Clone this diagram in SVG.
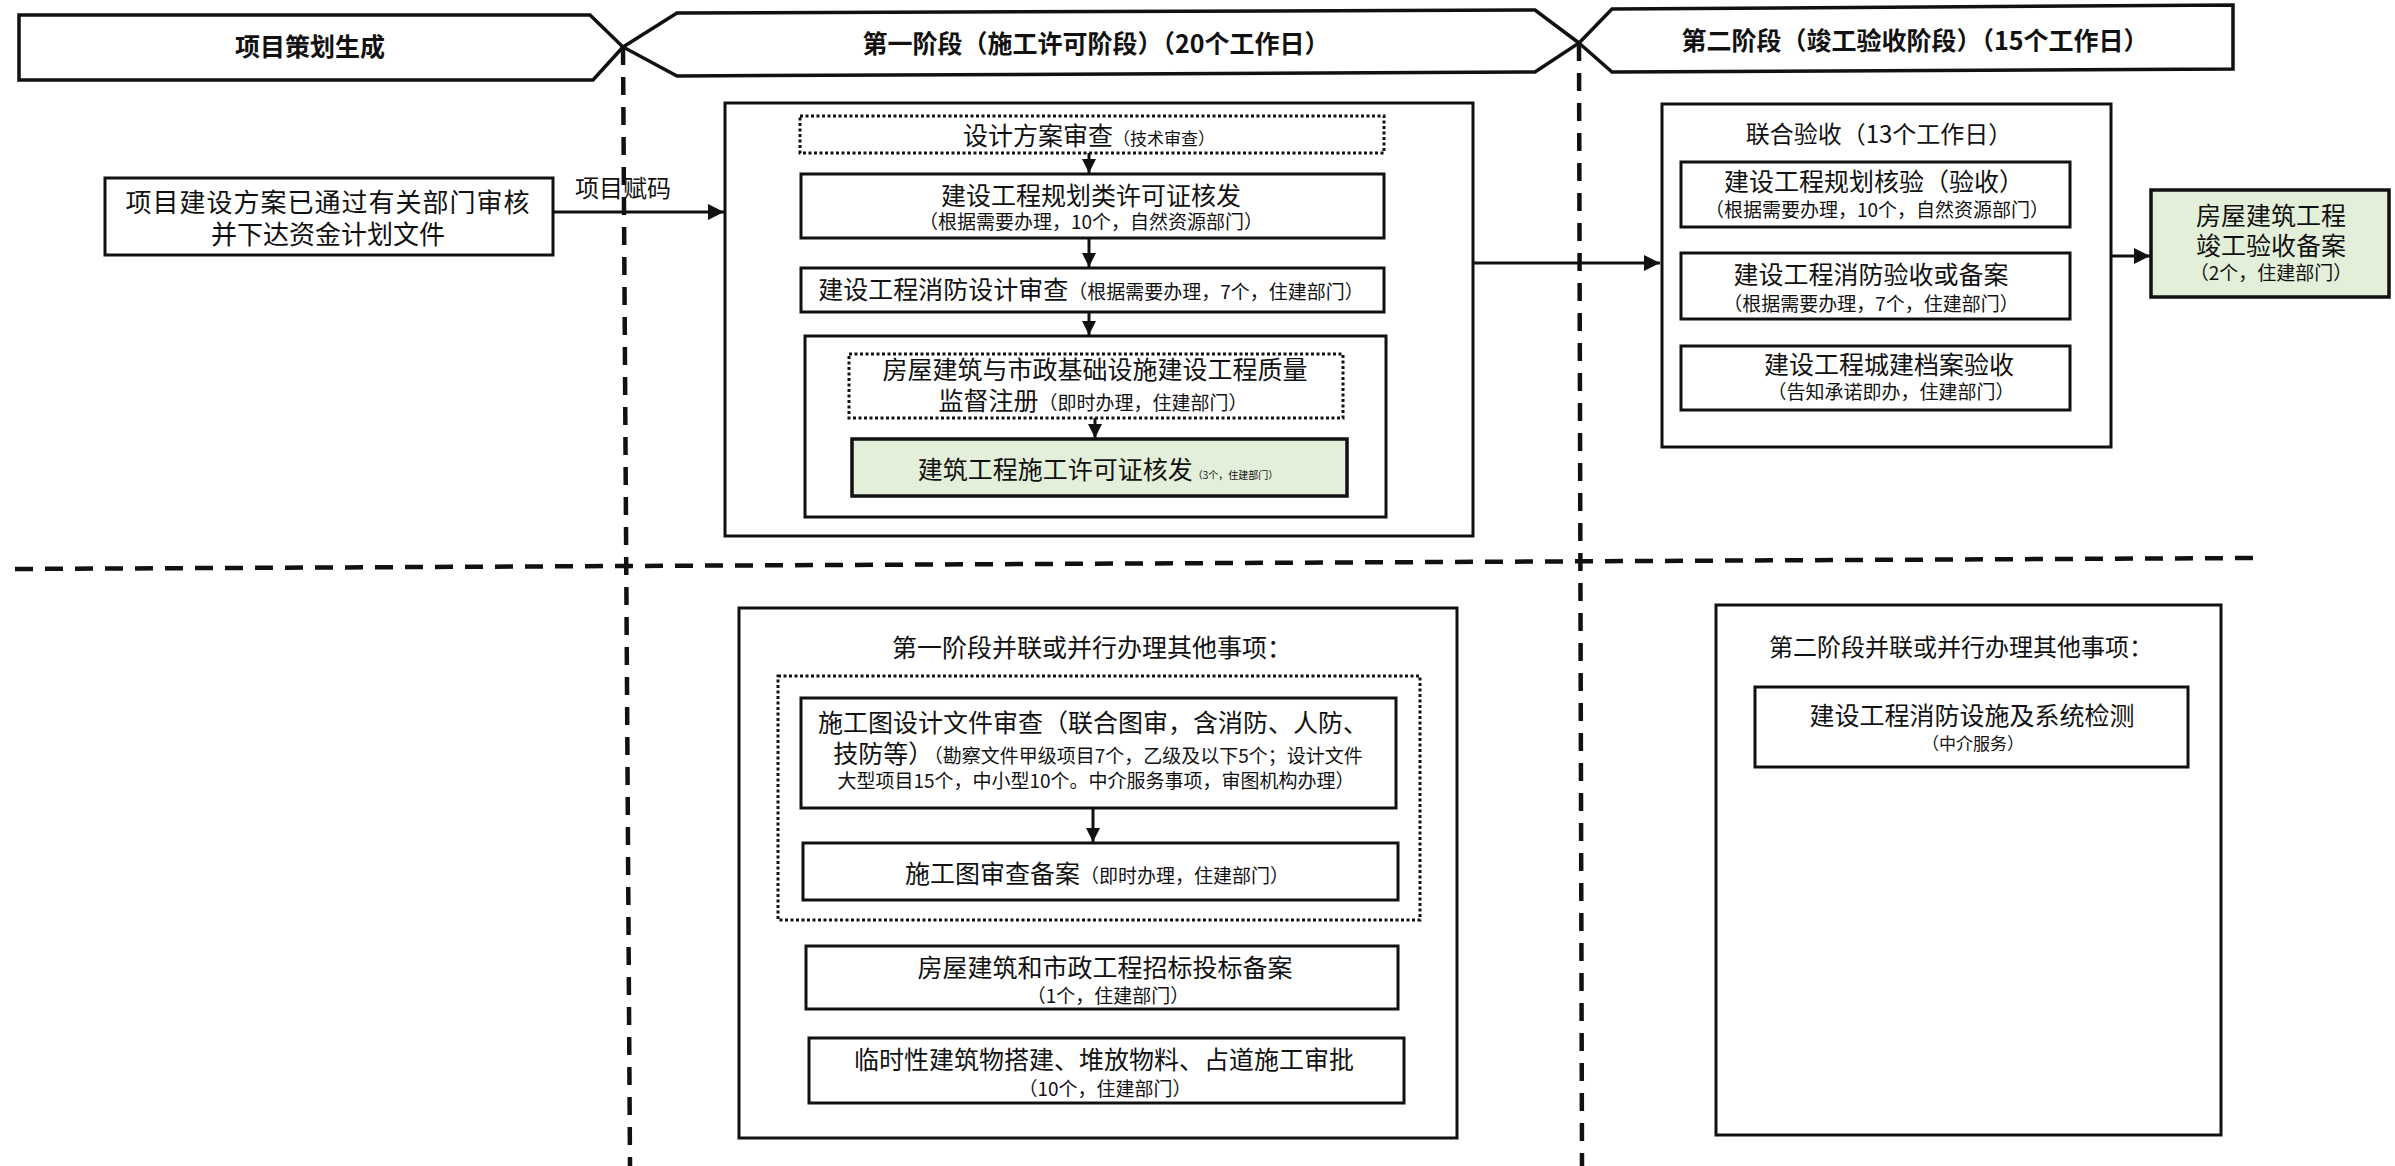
<svg xmlns="http://www.w3.org/2000/svg" width="2395" height="1166" viewBox="0 0 2395 1166">
<defs>
<marker id="arr" viewBox="0 0 10 10" refX="10" refY="5" markerWidth="16" markerHeight="16" markerUnits="userSpaceOnUse" orient="auto">
<path d="M0,0 L10,5 L0,10 z" fill="#111"/>
</marker>
<marker id="arrs" viewBox="0 0 10 10" refX="10" refY="5" markerWidth="14" markerHeight="14" markerUnits="userSpaceOnUse" orient="auto">
<path d="M0,0 L10,5 L0,10 z" fill="#111"/>
</marker>
</defs>
<style>
.box{fill:#fff;stroke:#111;stroke-width:3}
.dot{fill:#fff;stroke:#111;stroke-width:3;stroke-dasharray:3 2.5}
.green{fill:#e3efd9;stroke:#111;stroke-width:3.5}
.hdr{fill:#fff;stroke:#111;stroke-width:3.5;stroke-linejoin:miter}
.ht{font-family:"Noto Sans CJK SC","Noto Sans",sans-serif;font-weight:700;font-size:25px;fill:#111;text-anchor:middle}
.t{font-family:"Noto Sans CJK SC","Noto Sans",sans-serif;font-size:25px;fill:#111;text-anchor:middle}
.s{font-size:19px}
.con{stroke:#111;stroke-width:3;fill:none}
.dash{stroke:#111;stroke-width:4.5;stroke-dasharray:18 12;fill:none}
</style>
<rect width="2395" height="1166" fill="#fff"/>

<g id="headers">
<g id="hdr1">
<polygon class="hdr" points="19,15 590,15 623,47 593,80 19,80"/>
<text class="ht" x="310" y="56">项目策划生成</text>
</g>
<g id="hdr2">
<polygon class="hdr" points="623,47 677,13 1535,10 1579,43 1535,72 677,76"/>
<text class="ht" x="1096" y="53">第一阶段（施工许可阶段）（20个工作日）</text>
</g>
<g id="hdr3">
<polygon class="hdr" points="1579,43 1612,9 2233,5 2233,69 1612,72"/>
<text class="ht" x="1915" y="50">第二阶段（竣工验收阶段）（15个工作日）</text>
</g>
</g>

<g id="dividers">
<path class="dash" d="M623,47 L630,1166"/>
<path class="dash" d="M1579,43 L1582,1166"/>
<path class="dash" d="M15,569 L2255,558"/>
</g>

<g id="start">
<rect class="box" x="105" y="178" width="448" height="77"/>
<text class="t" x="328" y="212" style="font-size:26px;letter-spacing:1px">项目建设方案已通过有关部门审核</text>
<text class="t" x="328" y="244" style="font-size:26px">并下达资金计划文件</text>
</g>

<g id="stage1">
<rect class="box" x="725" y="103" width="748" height="433"/>
<g id="s1-design">
<rect class="dot" x="800" y="116" width="584" height="37"/>
<text class="t" x="1089" y="145">设计方案审查<tspan style="font-size:17px">（技术审查）</tspan></text>
</g>
<g id="s1-plan">
<rect class="box" x="801" y="174" width="583" height="64"/>
<text class="t" x="1091" y="205">建设工程规划类许可证核发</text>
<text class="t s" x="1091" y="229">（根据需要办理，10个，自然资源部门）</text>
</g>
<g id="s1-fire">
<rect class="box" x="801" y="268" width="583" height="44"/>
<text class="t" x="1091" y="299">建设工程消防设计审查<tspan class="s">（根据需要办理，7个，住建部门）</tspan></text>
</g>
<g id="s1-inner">
<rect class="box" x="805" y="336" width="581" height="181"/>
</g>
<g id="s1-quality">
<rect class="dot" x="849" y="354" width="494" height="64"/>
<text class="t" x="1095" y="379">房屋建筑与市政基础设施建设工程质量</text>
<text class="t" x="1093" y="410">监督注册<tspan class="s">（即时办理，住建部门）</tspan></text>
</g>
<g id="s1-permit">
<rect class="green" x="852" y="439" width="495" height="57"/>
<text class="t" x="1098" y="479">建筑工程施工许可证核发<tspan style="font-size:10px">（3个，住建部门）</tspan></text>
</g>
</g>

<g id="stage2">
<rect class="box" x="1662" y="104" width="449" height="343"/>
<text class="t" x="1879" y="143" style="font-size:24px">联合验收（13个工作日）</text>
<g id="s2-plan">
<rect class="box" x="1681" y="162" width="389" height="65"/>
<text class="t" x="1874" y="191">建设工程规划核验（验收）</text>
<text class="t s" x="1877" y="217">（根据需要办理，10个，自然资源部门）</text>
</g>
<g id="s2-fire">
<rect class="box" x="1681" y="253" width="389" height="66"/>
<text class="t" x="1871" y="284">建设工程消防验收或备案</text>
<text class="t s" x="1871" y="311">（根据需要办理，7个，住建部门）</text>
</g>
<g id="s2-archive">
<rect class="box" x="1681" y="346" width="389" height="64"/>
<text class="t" x="1889" y="374">建设工程城建档案验收</text>
<text class="t s" x="1891" y="399">（告知承诺即办，住建部门）</text>
</g>
</g>

<g id="final">
<rect class="green" x="2151" y="190" width="238" height="107"/>
<text class="t" x="2271" y="225">房屋建筑工程</text>
<text class="t" x="2271" y="255">竣工验收备案</text>
<text class="t" x="2271" y="280" style="font-size:19px">（2个，住建部门）</text>
</g>

<g id="parallel1">
<rect class="box" x="739" y="608" width="718" height="530"/>
<text class="t" x="1092" y="657">第一阶段并联或并行办理其他事项：</text>
<rect class="dot" x="778" y="676" width="642" height="244"/>
<g id="p1-drawing">
<rect class="box" x="801" y="698" width="595" height="110"/>
<text class="t" x="1093" y="732">施工图设计文件审查（联合图审，含消防、人防、</text>
<text class="t" x="1098" y="763">技防等）<tspan style="font-size:19px">（勘察文件甲级项目7个，乙级及以下5个；设计文件</tspan></text>
<text class="t" x="1096" y="788" style="font-size:19px">大型项目15个，中小型10个。中介服务事项，审图机构办理）</text>
</g>
<g id="p1-record">
<rect class="box" x="803" y="843" width="595" height="57"/>
<text class="t" x="1097" y="883">施工图审查备案<tspan class="s">（即时办理，住建部门）</tspan></text>
</g>
<g id="p1-bid">
<rect class="box" x="806" y="946" width="592" height="63"/>
<text class="t" x="1105" y="977">房屋建筑和市政工程招标投标备案</text>
<text class="t" x="1108" y="1003" style="font-size:19px">（1个，住建部门）</text>
</g>
<g id="p1-temp">
<rect class="box" x="809" y="1038" width="595" height="65"/>
<text class="t" x="1104" y="1069">临时性建筑物搭建、堆放物料、占道施工审批</text>
<text class="t s" x="1105" y="1096">（10个，住建部门）</text>
</g>
</g>

<g id="parallel2">
<rect class="box" x="1716" y="605" width="505" height="530"/>
<text class="t" x="1961" y="656" style="font-size:24px">第二阶段并联或并行办理其他事项：</text>
<g id="p2-fire">
<rect class="box" x="1755" y="687" width="433" height="80"/>
<text class="t" x="1972" y="725">建设工程消防设施及系统检测</text>
<text class="t" x="1973" y="750" style="font-size:17px">（中介服务）</text>
</g>
</g>

<g id="connectors">
<path class="con" d="M553,212 H724" marker-end="url(#arr)"/>
<text class="t" x="623" y="197" style="font-size:24px">项目赋码</text>
<path class="con" d="M1473,263 H1660" marker-end="url(#arr)"/>
<path class="con" d="M2111,256 H2150" marker-end="url(#arr)"/>
<path class="con" d="M1089,153 V173" marker-end="url(#arrs)"/>
<path class="con" d="M1089,238 V267" marker-end="url(#arrs)"/>
<path class="con" d="M1089,312 V335" marker-end="url(#arrs)"/>
<path class="con" d="M1095,418 V438" marker-end="url(#arrs)"/>
<path class="con" d="M1093,808 V842" marker-end="url(#arrs)"/>
</g>
</svg>
